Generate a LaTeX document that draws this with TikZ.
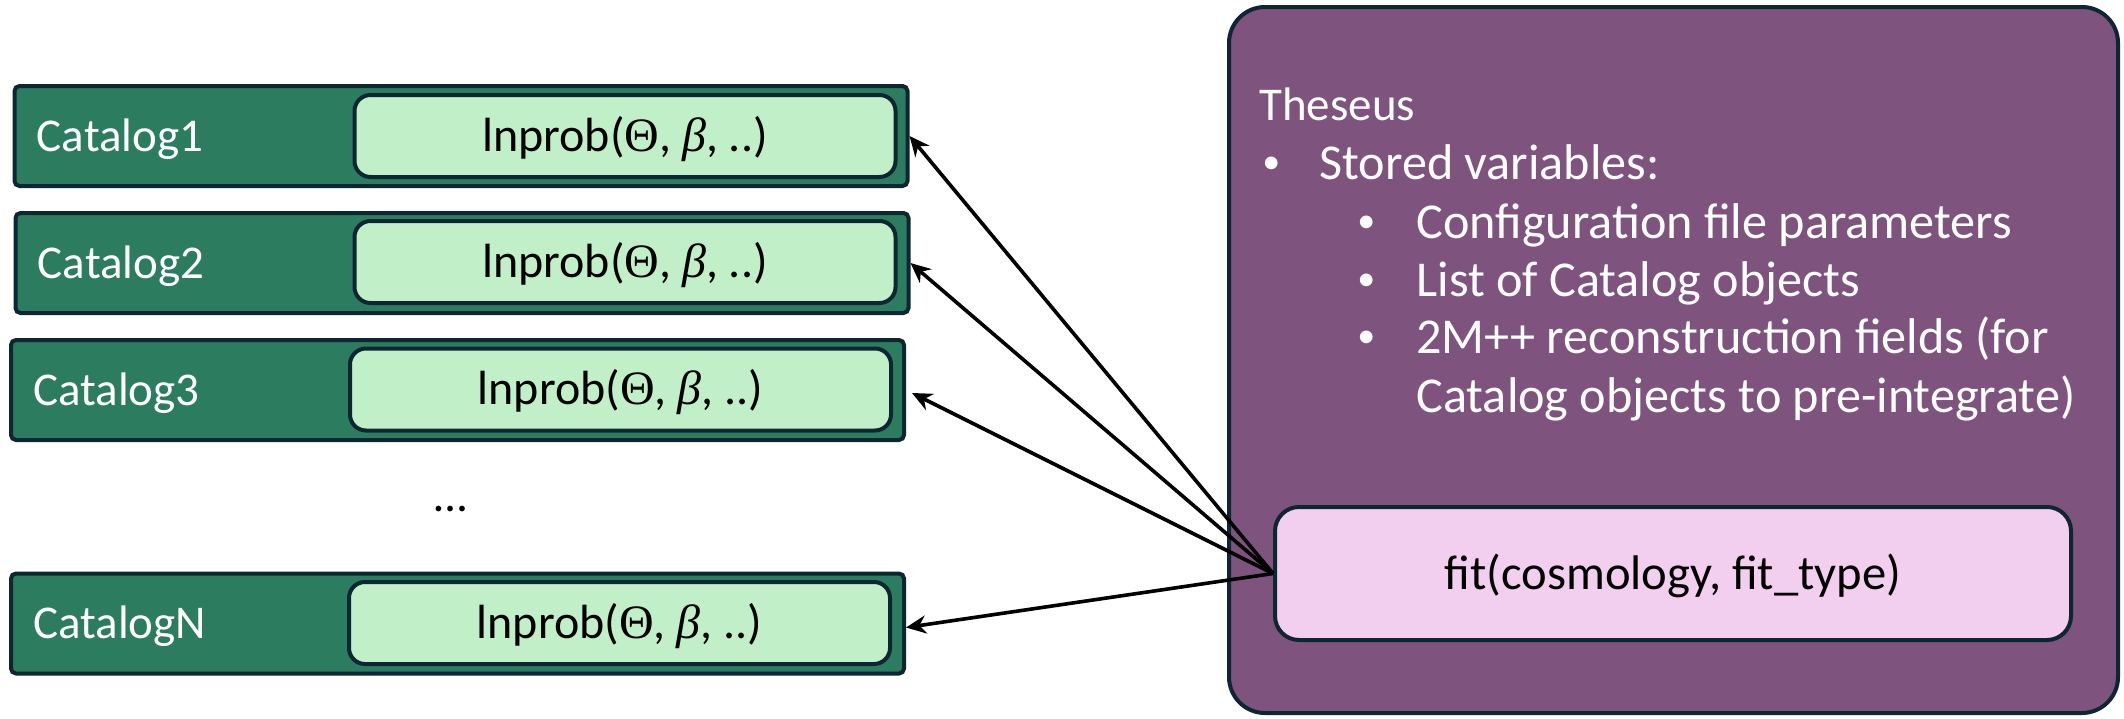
\documentclass[tikz,border=0pt]{standalone}
\usepackage{fontspec}
\setmainfont{Carlito}
\newfontfamily\greekfont{Liberation Serif}
\usetikzlibrary{arrows.meta}

\definecolor{catgreen}{HTML}{2C7C60}
\definecolor{edgeblue}{HTML}{0E2632}
\definecolor{probgreen}{HTML}{C1F0C8}
\definecolor{thesplum}{HTML}{7E537E}
\definecolor{fitpink}{HTML}{F2CEEF}

\newcommand{\probcall}{lnprob({\greekfont Θ}, {\greekfont\itshape β}, ..)}

\tikzset{
  catbox/.style={draw=edgeblue, fill=catgreen, line width=2pt, rounded corners=2.5pt,
    minimum width=446.5pt, minimum height=50pt, inner sep=0pt},
  probbox/.style={draw=edgeblue, fill=probgreen, line width=2pt, rounded corners=8pt,
    minimum width=270.5pt, minimum height=41pt, inner sep=0pt},
  plumbox/.style={draw=edgeblue, fill=thesplum, line width=2pt, rounded corners=18pt,
    minimum width=444.5pt, minimum height=353pt, inner sep=0pt},
  fitbox/.style={draw=edgeblue, fill=fitpink, line width=2pt, rounded corners=12pt,
    minimum width=398pt, minimum height=66.5pt, inner sep=0pt},
  whitetext/.style={text=white, inner sep=0pt},
  blacktext/.style={text=black, inner sep=0pt},
  itemtext/.style={whitetext, anchor=base west, font=\fontsize{25.1}{30}\selectfont},
  bulletmark/.style={whitetext, anchor=base west, font=\fontsize{18}{22}\selectfont},
  link/.style={draw=black, line width=1.8pt, -{Stealth[length=10pt, width=9pt]}},
}

\begin{document}
\begin{tikzpicture}[x=0.5pt, y=-0.5pt, font=\fontsize{23.5}{28}\selectfont]
\useasboundingbox (0,0) rectangle (2124,718);

% Catalog objects
\node[catbox] (c1) at (461,136) {};
\node[catbox] (c2) at (462,263) {};
\node[catbox] (c3) at (457.5,390) {};
\node[catbox] (cN) at (457.5,623.5) {};

\node[probbox] (p1) at (625,136) {};
\node[probbox] (p2) at (625,262) {};
\node[probbox] (p3) at (620.5,389.5) {};
\node[probbox] (pN) at (619.5,623) {};

\node[whitetext, anchor=base west] (l1) at ([xshift=12pt, yshift=-7.5pt]c1.west) {Catalog1};
\node[whitetext, anchor=base west] (l2) at ([xshift=12pt, yshift=-7.5pt]c2.west) {Catalog2};
\node[whitetext, anchor=base west] (l3) at ([xshift=12pt, yshift=-7.5pt]c3.west) {Catalog3};
\node[whitetext, anchor=base west] (lN) at ([xshift=12pt, yshift=-7.5pt]cN.west) {CatalogN};

\begin{scope}[font=\fontsize{24}{29}\selectfont]
\node[blacktext, anchor=base] (t1) at ([yshift=-7.7pt]p1.center) {\probcall};
\node[blacktext, anchor=base] (t2) at ([yshift=-7.7pt]p2.center) {\probcall};
\node[blacktext, anchor=base] (t3) at ([yshift=-7.7pt]p3.center) {\probcall};
\node[blacktext, anchor=base] (tN) at ([yshift=-7.7pt]pN.center) {\probcall};
\end{scope}

\node[blacktext, anchor=base] (dots) at (451,511) {…};

% Theseus object
\node[plumbox] (theseus) at (1673.5,360) {};
\node[whitetext, anchor=base west] (h0) at (1259,120) {Theseus};
\node[bulletmark] (b1) at (1262,173) {•};
\node[itemtext] (s1) at (1319,179) {Stored variables:};
\node[bulletmark] (b2) at (1357,232) {•};
\node[itemtext] (s2) at (1416,238) {Configuration file parameters};
\node[bulletmark] (b3) at (1357,290) {•};
\node[itemtext] (s3) at (1416,296) {List of Catalog objects};
\node[bulletmark] (b4) at (1357,347) {•};
\node[itemtext] (s4) at (1416,353) {2M++ reconstruction fields (for};
\node[itemtext] (s5) at (1416,412) {Catalog objects to pre-integrate)};

\node[fitbox] (fit) at (1673,573.5) {};
\node[blacktext, anchor=base, font=\fontsize{24.3}{29}\selectfont] (fitlabel)
  at ([yshift=-7.8pt]fit.center) {fit(cosmology, fit\_type)};

% Calls from fit() to each catalogue
\draw[link] (fit.west) -- (c1.east);
\draw[link] (fit.west) -- (c2.east);
\draw[link] (fit.west) -- ([xshift=3pt, yshift=-1.5pt]c3.east);
\draw[link] (fit.west) -- ([yshift=-2pt]cN.east);
\end{tikzpicture}
\end{document}
